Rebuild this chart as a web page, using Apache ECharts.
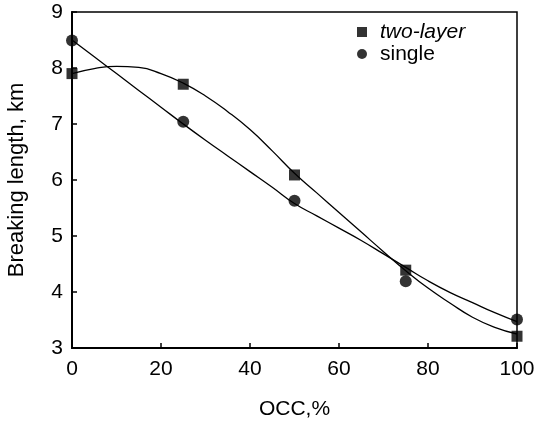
<!DOCTYPE html>
<html>
<head>
<meta charset="utf-8">
<script src="https://cdn.jsdelivr.net/npm/echarts@6/dist/echarts.min.js"></script>
<style>
  html, body { margin: 0; padding: 0; background: #fff; }
  #chart { width: 536px; height: 421px; }
</style>
</head>
<body>
<div id="chart"></div>
<script>
// measured points (OCC %, breaking length km)
const occ = [0, 25, 50, 75, 100];
const twoLayer = [7.9, 7.71, 6.09, 4.39, 3.21];
const single = [8.49, 7.04, 5.63, 4.19, 3.51];

// fitted curves, every 5 %
const fitX = [0, 5, 10, 15, 20, 25, 30, 35, 40, 45, 50, 55, 60, 65, 70, 75, 80, 85, 90, 95, 100];
const twoLayerFit = [7.9, 7.99, 8.03, 8.01, 7.9, 7.73, 7.5, 7.22, 6.9, 6.52, 6.12, 5.77, 5.42, 5.07, 4.72, 4.38, 4.07, 3.8, 3.55, 3.37, 3.25];
const singleFit = [8.5, 8.2, 7.9, 7.6, 7.3, 7.0, 6.71, 6.43, 6.15, 5.87, 5.58, 5.36, 5.14, 4.92, 4.68, 4.44, 4.2, 3.99, 3.81, 3.63, 3.47];

const xTicks = [0, 20, 40, 60, 80, 100];

const pairs = (xs, ys) => xs.map((x, i) => [x, ys[i]]);
const font = 'Liberation Sans, Arial, sans-serif';

const chart = echarts.init(document.getElementById('chart'));
chart.setOption({
  animation: false,
  backgroundColor: '#fff',
  grid: {
    left: 72, right: 19, top: 12, bottom: 73,
    outerBoundsMode: 'none', containLabel: false,
    show: true, borderColor: '#000', borderWidth: 1.5
  },
  legend: {
    orient: 'vertical',
    left: 352, top: 16,
    itemWidth: 10, itemHeight: 10, itemGap: 0,
    textStyle: { fontFamily: font, fontSize: 21, color: '#000', lineHeight: 22, padding: [0, 0, 0, 8] },
    data: [
      { name: 'two-layer', icon: 'rect', textStyle: { fontStyle: 'italic' } },
      { name: 'single', icon: 'circle' }
    ]
  },
  xAxis: {
    type: 'value', min: 0, max: 100, interval: 20,
    name: 'OCC,%', nameLocation: 'middle', nameGap: 51,
    nameTextStyle: { fontFamily: font, fontSize: 21, color: '#000' },
    axisLine: { lineStyle: { color: '#000', width: 2 } },
    axisTick: { inside: true, length: 5, lineStyle: { color: '#000', width: 1.5 } },
    axisLabel: {
      fontFamily: font, fontSize: 21, color: '#000', margin: 11,
      formatter: v => xTicks.includes(v) ? String(v) : ''
    },
    splitLine: { show: false }
  },
  yAxis: {
    type: 'value', min: 3, max: 9, interval: 1,
    name: 'Breaking length, km', nameLocation: 'middle', nameGap: 44,
    nameTextStyle: { fontFamily: font, fontSize: 22, color: '#000' },
    axisLine: { lineStyle: { color: '#000', width: 2 } },
    axisTick: { inside: true, length: 5, lineStyle: { color: '#000', width: 1.5 } },
    axisLabel: { fontFamily: font, fontSize: 21, color: '#000', margin: 9 },
    splitLine: { show: false }
  },
  series: [
    {
      name: 'two-layer fit', type: 'line', data: pairs(fitX, twoLayerFit),
      smooth: true, showSymbol: false, silent: true,
      lineStyle: { color: '#000', width: 1.3 }
    },
    {
      name: 'single fit', type: 'line', data: pairs(fitX, singleFit),
      smooth: true, showSymbol: false, silent: true,
      lineStyle: { color: '#000', width: 1.3 }
    },
    {
      name: 'two-layer', type: 'scatter', data: pairs(occ, twoLayer),
      symbol: 'rect', symbolSize: 11, itemStyle: { color: '#000' }, z: 5
    },
    {
      name: 'single', type: 'scatter', data: pairs(occ, single),
      symbol: 'circle', symbolSize: 12, itemStyle: { color: '#000' }, z: 5
    }
  ]
});
</script>
</body>
</html>
